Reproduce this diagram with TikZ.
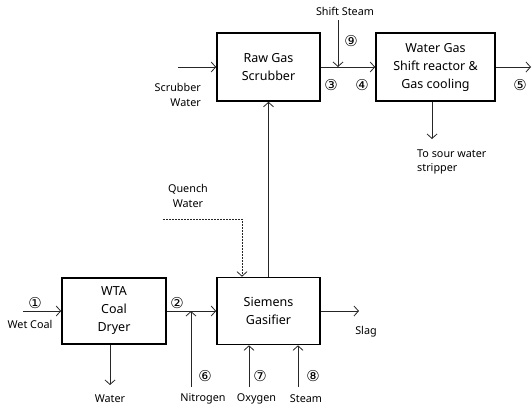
\documentclass[tikz,border=0pt]{standalone}
\usepackage{fontspec}
\setmainfont{Noto Sans}
\newfontfamily\circfont{DejaVu Sans}
\usetikzlibrary{arrows.meta}

\begin{document}
\begin{tikzpicture}[x=1pt, y=-1pt, >={Straight Barb[length=4.5pt, width=10pt]}]
\tikzstyle{unit}=[draw, line width=1.6pt, align=center, inner sep=0pt, font=\fontsize{12.5}{18}\selectfont]
\tikzstyle{flow}=[->, line width=0.8pt, black!85]
\tikzstyle{lbl}=[align=center, inner sep=0pt, font=\fontsize{10.8}{14.5}\selectfont]
\tikzstyle{num}=[inner sep=0pt, font=\circfont\fontsize{15}{15}\selectfont]
\useasboundingbox (0,0) rectangle (532,410);
% units
\node[unit, minimum width=103pt, minimum height=68pt] (scrub) at (268.5,67) {Raw Gas\\Scrubber};
\node[unit, minimum width=119pt, minimum height=68pt] (wgs) at (435.5,67) {Water Gas\\Shift reactor \&\\Gas cooling};
\node[unit, minimum width=104pt, minimum height=66pt] (wta) at (114,311) {WTA\\Coal\\Dryer};
\node[unit, minimum width=103pt, minimum height=67pt] (siem) at (268.5,311) {Siemens\\Gasifier};
% free ends
\coordinate (sw) at (178,67);
\coordinate (ss) at (338,20);
\coordinate (out) at (531,67);
\coordinate (sour) at (432,139);
\coordinate (qw) at (163,219);
\coordinate (qd) at (242,219);
\coordinate (wc) at (23,311);
\coordinate (n2) at (191,387);
\coordinate (wout) at (110,385);
\coordinate (o2) at (249,387);
\coordinate (st) at (298,387);
\coordinate (slag) at (359,311);
% streams
\draw[flow] (sw) -- (scrub.west);
\draw[flow] (scrub.east) -- (wgs.west);
\draw[flow] (ss) -- (ss |- scrub.east);
\draw[flow] (wgs.east) -- (out);
\draw[flow] (sour |- wgs.south) -- (sour);
\draw[flow] (siem.north) -- (scrub.south);
\draw[flow, dash pattern=on 2pt off 1pt] (qw) -- (qd) -- (qd |- siem.north);
\draw[flow] (wc) -- (wta.west);
\draw[flow] (wta.east) -- (siem.west);
\draw[flow] (n2) -- (n2 |- wta.east);
\draw[flow] (wout |- wta.south) -- (wout);
\draw[flow] (o2) -- (o2 |- siem.south);
\draw[flow] (st) -- (st |- siem.south);
\draw[flow] (siem.east) -- (slag);
% labels
\node[lbl, align=right, anchor=east] (swl) at (201,95) {Scrubber\\Water};
\node[lbl] (ssl) at (345,11) {Shift Steam};
\node[lbl, align=left, anchor=west] (sourl) at (417,162) {To sour water\\stripper};
\node[lbl] (qwl) at (188,196) {Quench\\Water};
\node[lbl] (wcl) at (30,324) {Wet Coal};
\node[lbl] (n2l) at (203,399) {Nitrogen};
\node[lbl] (woutl) at (110,399) {Water};
\node[lbl] (o2l) at (256.5,399) {Oxygen};
\node[lbl] (stl) at (306,399) {Steam};
\node[lbl] (slagl) at (366,332) {Slag};
% stream numbers
\node[num] (s1) at (35,303) {①};
\node[num] (s2) at (177,303) {②};
\node[num] (s3) at (331,85) {③};
\node[num] (s4) at (362,85) {④};
\node[num] (s5) at (520,85) {⑤};
\node[num] (s6) at (205,376) {⑥};
\node[num] (s7) at (260,376) {⑦};
\node[num] (s8) at (313,376) {⑧};
\node[num] (s9) at (351,41) {⑨};
\end{tikzpicture}
\end{document}
